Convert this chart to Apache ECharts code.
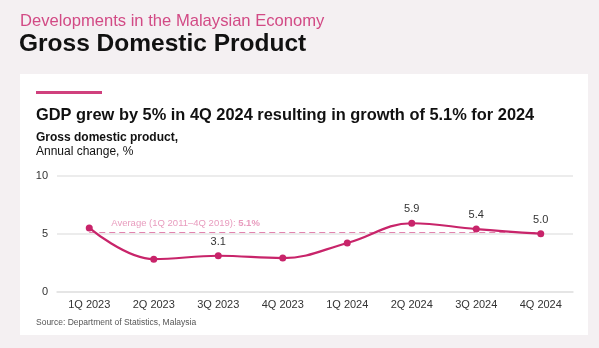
<!DOCTYPE html>
<html>
<head>
<meta charset="utf-8">
<script src="https://cdn.jsdelivr.net/npm/echarts@6/dist/echarts.min.js"></script>
<style>
  html, body { margin: 0; padding: 0; background: #f4f0f2; }
  #chart { width: 599px; height: 348px; }
</style>
</head>
<body>
<div id="chart"></div>
<script>
// Quarterly real GDP growth, % year on year
const quarters = ['1Q 2023', '2Q 2023', '3Q 2023', '4Q 2023', '1Q 2024', '2Q 2024', '3Q 2024', '4Q 2024'];
const gdpGrowth = [5.5, 2.8, 3.1, 2.9, 4.2, 5.9, 5.4, 5.0];
// Which points carry a value label
const labelledPoints = [false, false, true, false, false, true, true, true];
// Long-run average (1Q 2011–4Q 2019)
const averageGrowth = 5.1;
const yTicks = [0, 5, 10];

const FONT = '"Liberation Sans", Arial, sans-serif';
const LINE = '#c8246a';
const AVG = '#e283ae';

const chart = echarts.init(document.getElementById('chart'), null, { renderer: 'canvas' });

chart.setOption({
  backgroundColor: '#f4f0f2',
  animation: false,
  textStyle: { fontFamily: FONT },
  graphic: [
    { type: 'rect', left: 20, top: 74, shape: { width: 568, height: 261 }, style: { fill: '#ffffff' }, z: -10 },
    { type: 'rect', left: 36, top: 91, shape: { width: 66, height: 3 }, style: { fill: '#d0407d' } },
    { type: 'text', left: 20, top: 13, style: { text: 'Developments in the Malaysian Economy', fill: '#d24a85', font: '16.6px ' + FONT } },
    { type: 'text', left: 19, top: 32, style: { text: 'Gross Domestic Product', fill: '#111111', font: 'bold 24.5px ' + FONT } },
    { type: 'text', left: 36, top: 107, style: { text: 'GDP grew by 5% in 4Q 2024 resulting in growth of 5.1% for 2024', fill: '#111111', font: 'bold 16.4px ' + FONT } },
    { type: 'text', left: 36, top: 132, style: { text: 'Gross domestic product,', fill: '#111111', font: 'bold 12px ' + FONT } },
    { type: 'text', left: 36, top: 146, style: { text: 'Annual change, %', fill: '#111111', font: '12px ' + FONT } },
    { type: 'text', left: 36, top: 318, style: { text: 'Source: Department of Statistics, Malaysia', fill: '#555555', font: '8.5px ' + FONT } }
  ],
  grid: { left: 57, right: 26, top: 175.7, bottom: 348 - 291.7, containLabel: false },
  xAxis: {
    type: 'category',
    data: quarters,
    boundaryGap: true,
    axisLine: { show: true, lineStyle: { color: '#e2e2e2', width: 1.5 } },
    axisTick: { show: false },
    axisLabel: { color: '#333333', fontSize: 11, margin: 8, fontFamily: FONT }
  },
  yAxis: {
    type: 'value',
    min: 0,
    max: 10,
    interval: 5,
    axisLine: { show: false },
    axisTick: { show: false },
    splitLine: { lineStyle: { color: '#e6e6e6', width: 1.5 } },
    axisLabel: {
      color: '#333333', fontSize: 11, margin: 9, fontFamily: FONT,
      formatter: v => (yTicks.includes(v) ? String(v) : '')
    }
  },
  series: [{
    type: 'line',
    data: gdpGrowth.map((v, i) => ({
      value: v,
      label: { show: labelledPoints[i] }
    })),
    smooth: 0.4,
    symbol: 'circle',
    symbolSize: 7,
    lineStyle: { color: LINE, width: 2.2 },
    itemStyle: { color: LINE },
    label: {
      position: 'top',
      distance: 5,
      color: '#333333',
      fontSize: 11,
      fontFamily: FONT,
      formatter: p => p.value.toFixed(1)
    },
    z: 5,
    markLine: {
      silent: true,
      symbol: 'none',
      z: 3,
      lineStyle: { color: AVG, type: [6, 4], width: 1.2 },
      label: { show: false },
      data: [[
        { xAxis: quarters[0], yAxis: averageGrowth },
        { xAxis: quarters[quarters.length - 1], yAxis: averageGrowth }
      ]]
    }
  }, {
    // carries the average's caption
    type: 'scatter',
    data: [[quarters[0], averageGrowth]],
    symbolSize: 0,
    silent: true,
    label: {
      show: true,
      position: 'right',
      offset: [17, -9],
      formatter: '{a|Average (1Q 2011–4Q 2019): }{b|' + averageGrowth.toFixed(1) + '%}',
      rich: {
        a: { color: AVG, fontSize: 9.5, fontFamily: FONT },
        b: { color: AVG, fontSize: 9.5, fontWeight: 'bold', fontFamily: FONT }
      }
    }
  }]
});
</script>
</body>
</html>
